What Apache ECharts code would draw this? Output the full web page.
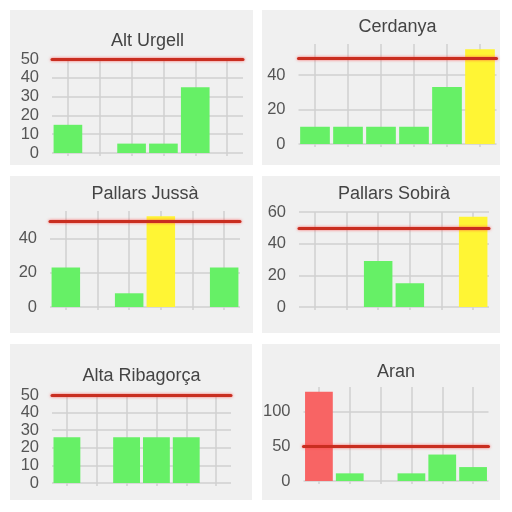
<!DOCTYPE html>
<html><head><meta charset="utf-8">
<script src="https://cdn.jsdelivr.net/npm/echarts@6/dist/echarts.min.js"></script>
<style>html,body{margin:0;padding:0;background:#fff}#c{width:512px;height:512px}</style>
</head><body><div id="c"></div>
<script>
const titles = ['Alt Urgell', 'Cerdanya', 'Pallars Jussà', 'Pallars Sobirà', 'Alta Ribagorça', 'Aran'];
const categories = ['1', '2', '3', '4', '5', '6'];
const altUrgell = [15, 0, 5, 5, 35, 0];
const cerdanya = [10, 10, 10, 10, 33, 55];
const pallarsJussa = [23, 0, 8, 53, 0, 23];
const pallarsSobira = [0, 0, 29, 15, 0, 57];
const altaRibagorca = [26, 0, 26, 26, 26, 0];
const aran = [128, 11, 0, 11, 38, 20];
const threshold = 50;
const yMax = [50, 58, 56, 60, 50, 135];
const yInterval = [10, 20, 20, 20, 10, 50];

const seriesData = [altUrgell, cerdanya, pallarsJussa, pallarsSobira, altaRibagorca, aran];

const panels = [
  {bg: [10, 10, 243, 155], grid: {left: 52, width: 191, top: 59, height: 94}, titleY: 41},
  {bg: [262, 10, 238, 155], grid: {left: 298.5, width: 198, top: 44, height: 100}, titleY: 27},
  {bg: [10, 176, 243, 157], grid: {left: 50, width: 190, top: 211, height: 96}, titleY: 194},
  {bg: [262, 176, 238, 157], grid: {left: 299, width: 190, top: 212, height: 95}, titleY: 194},
  {bg: [10, 344, 242, 156], grid: {left: 52, width: 179, top: 395, height: 88}, titleY: 376},
  {bg: [262, 344, 238, 156], grid: {left: 303.5, width: 185, top: 387, height: 94}, titleY: 372}
];

const GRID_COLOR = '#d0d0d0';
const FONT = 'Liberation Sans, Arial, Helvetica, sans-serif';

function barColor(v) {
  if (v > 100) return '#f86464';
  if (v > threshold) return '#fff534';
  return '#66f066';
}

const option = {
  animation: false,
  backgroundColor: '#ffffff',
  graphic: panels.map(p => ({
    type: 'rect', z: -10, silent: true,
    shape: {x: p.bg[0], y: p.bg[1], width: p.bg[2], height: p.bg[3]},
    style: {fill: '#f0f0f0'}
  })),
  title: panels.map((p, i) => ({
    text: titles[i],
    left: p.grid.left + p.grid.width / 2,
    top: p.titleY - 10,
    textAlign: 'center',
    padding: 0,
    textStyle: {fontFamily: FONT, fontSize: 18, fontWeight: 'normal', color: '#444', lineHeight: 20}
  })),
  grid: panels.map(p => ({left: p.grid.left, top: p.grid.top, width: p.grid.width, height: p.grid.height, containLabel: false})),
  xAxis: [].concat(
    panels.map((p, i) => ({
      type: 'category', gridIndex: i, data: categories, boundaryGap: true,
      axisLine: {show: false},
      axisLabel: {show: false},
      axisTick: {show: true, alignWithLabel: true, length: 3, lineStyle: {color: GRID_COLOR, width: 1.5}},
      splitLine: {show: false}
    })),
    panels.map((p, i) => ({
      type: 'value', gridIndex: i, min: 0, max: 12, interval: 1,
      axisLine: {show: false}, axisLabel: {show: false}, axisTick: {show: false},
      splitLine: {show: true, lineStyle: {color: ['rgba(0,0,0,0)', GRID_COLOR], width: 1.5}}
    }))
  ),
  yAxis: panels.map((p, i) => ({
    type: 'value', gridIndex: i, min: 0, max: yMax[i], interval: yInterval[i],
    axisLine: {show: false}, axisTick: {show: false},
    axisLabel: {fontFamily: FONT, fontSize: 16.5, color: '#555', margin: 13, showMaxLabel: yMax[i] % yInterval[i] === 0},
    splitLine: {show: true, showMaxLine: yMax[i] % yInterval[i] === 0, lineStyle: {color: GRID_COLOR, width: 1.5}}
  })),
  series: seriesData.map((d, i) => ({
    type: 'bar', xAxisIndex: i, yAxisIndex: i,
    barCategoryGap: '10%',
    data: d.map(v => ({value: v, itemStyle: {color: barColor(v)}})),
    markLine: {
      silent: true, symbol: 'none', animation: false,
      label: {show: false},
      lineStyle: {type: 'solid', color: '#c92e20', width: 3, shadowBlur: 3, shadowColor: 'rgba(255,70,70,0.8)', cap: 'round'},
      emphasis: {disabled: true},
      data: [{yAxis: threshold}]
    }
  }))
};

const chart = echarts.init(document.getElementById('c'), null, {renderer: 'canvas'});
chart.setOption(option);
</script>
</body></html>
